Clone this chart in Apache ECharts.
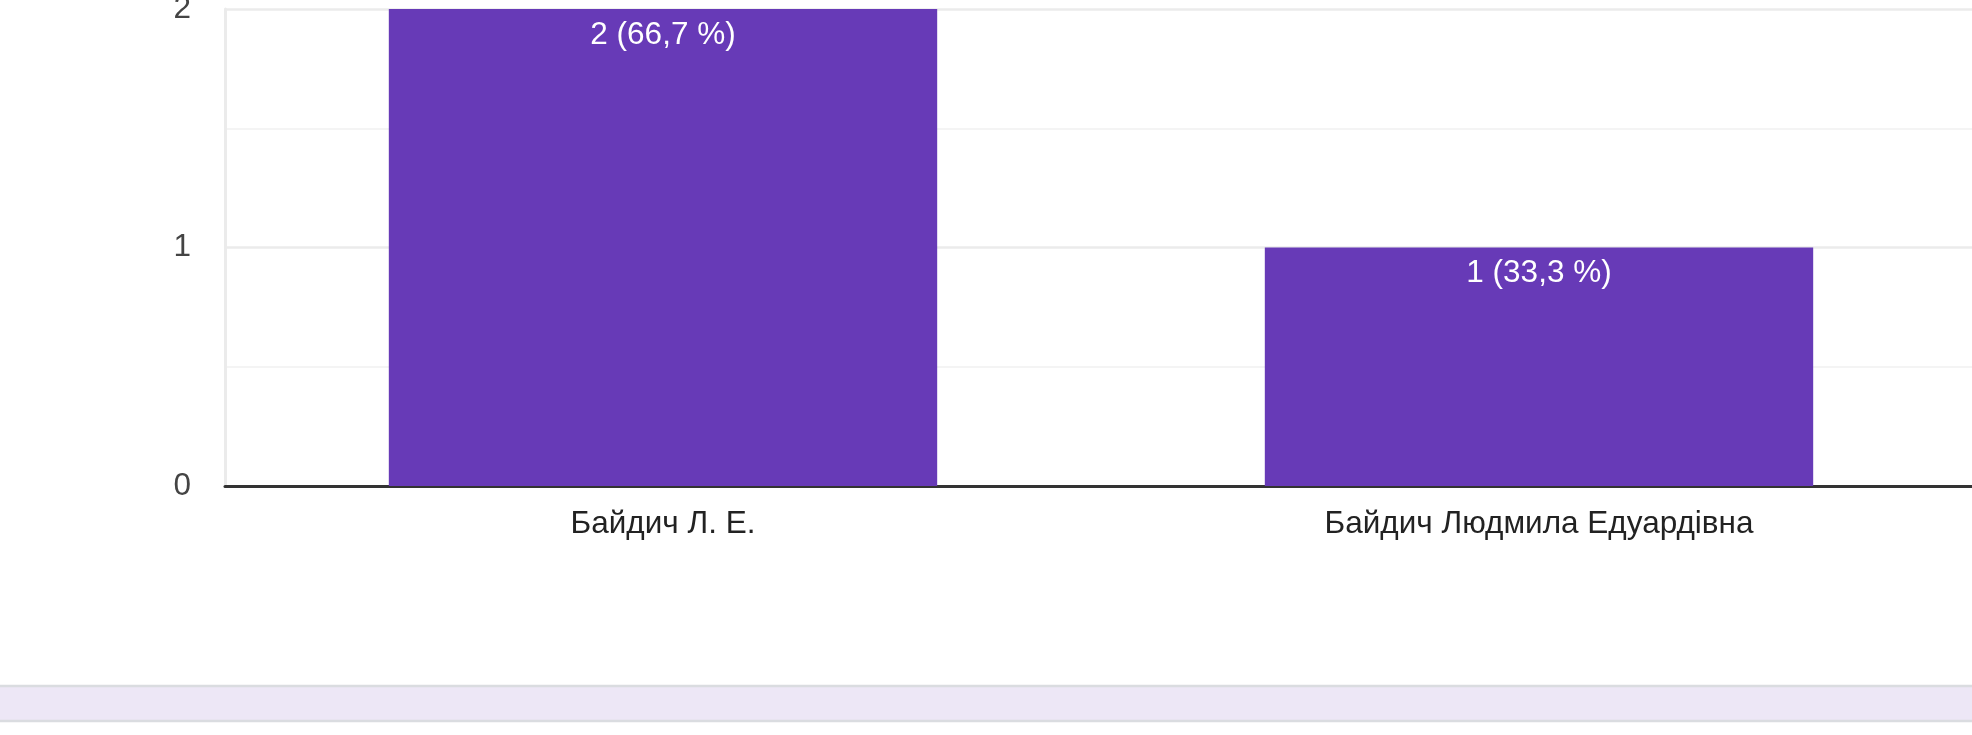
<!DOCTYPE html>
<html>
<head>
<meta charset="utf-8">
<script src="https://cdn.jsdelivr.net/npm/echarts@6/dist/echarts.min.js"></script>
<style>
  html, body { margin: 0; padding: 0; background: #ffffff; overflow: hidden; }
  #chart { width: 1972px; height: 735px; }
</style>
</head>
<body>
<div id="chart"></div>
<script>
const categories = ['Байдич Л. Е.', 'Байдич Людмила Едуардівна'];
const counts = [2, 1];
const percentLabels = ['66,7 %', '33,3 %'];
const yTicks = [0, 1, 2];

const chart = echarts.init(document.getElementById('chart'), null, { renderer: 'canvas' });
const FONT = '"Liberation Sans", Arial, sans-serif';

chart.setOption({
  animation: false,
  backgroundColor: '#ffffff',
  textStyle: { fontFamily: FONT },
  grid: { left: 225, top: 9, right: -5, bottom: 249, containLabel: false, outerBoundsMode: 'none' },
  xAxis: {
    type: 'category',
    data: categories,
    axisTick: { show: false },
    axisLine: { show: true, lineStyle: { color: '#333333', width: 3 } },
    axisLabel: { fontFamily: FONT, fontSize: 31.5, color: '#222222', margin: 22 },
    splitLine: { show: false }
  },
  yAxis: {
    type: 'value',
    min: yTicks[0],
    max: yTicks[yTicks.length - 1],
    interval: 1,
    axisTick: { show: false },
    axisLine: { show: true, lineStyle: { color: '#ebebeb', width: 3 } },
    axisLabel: { fontFamily: FONT, fontSize: 31.5, color: '#444444', margin: 34 },
    splitLine: { show: true, lineStyle: { color: '#ebebeb', width: 2.5 } },
    minorTick: { show: false, splitNumber: 2 },
    minorSplitLine: { show: true, lineStyle: { color: '#f4f4f4', width: 2 } }
  },
  series: [{
    type: 'bar',
    data: counts,
    barWidth: '62.6%',
    itemStyle: { color: '#673ab7' },
    label: {
      show: true,
      position: 'insideTop',
      distance: 10,
      fontFamily: FONT,
      fontSize: 31.5,
      color: '#ffffff',
      formatter: p => p.value + ' (' + percentLabels[p.dataIndex] + ')'
    }
  }],
  graphic: [{
    type: 'rect',
    silent: true,
    shape: { x: -5, y: 686, width: 1982, height: 35 },
    style: { fill: '#ede7f6', stroke: '#dadce0', lineWidth: 2.5 }
  }]
});
</script>
</body>
</html>
